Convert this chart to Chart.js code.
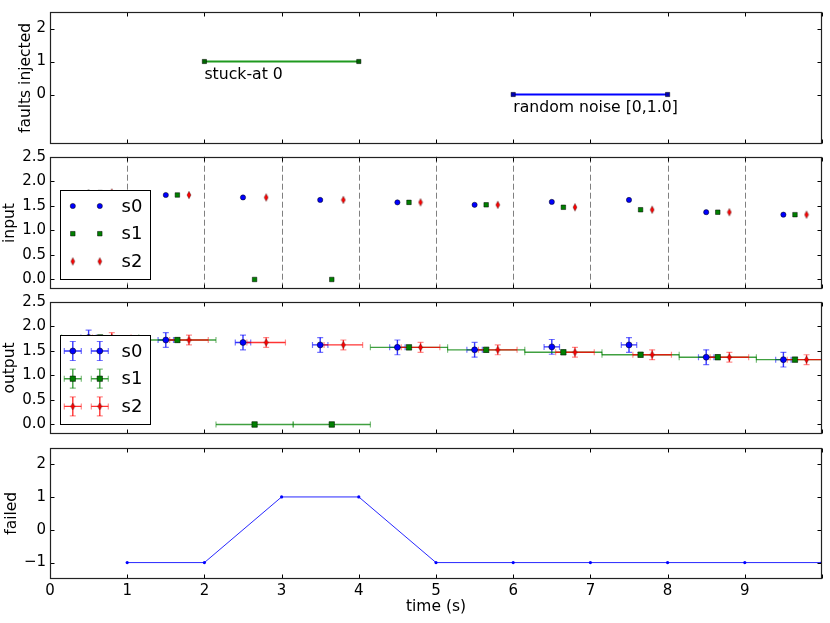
<!DOCTYPE html>
<html><head><meta charset="utf-8">
<script src="https://cdn.jsdelivr.net/npm/chart.js@4.4.0/dist/chart.umd.min.js"></script>
<style>
html,body{margin:0;padding:0;background:#fff;}
#wrap{position:relative;width:830px;height:623px;overflow:hidden;background:#fff;}
canvas{position:absolute;left:0;}
</style></head><body>
<div id="wrap">
<canvas id="c1" width="830" height="150" style="top:0px;width:830px;height:150px"></canvas>
<canvas id="c2" width="830" height="150" style="top:146px;width:830px;height:150px"></canvas>
<canvas id="c3" width="830" height="150" style="top:290px;width:830px;height:150px"></canvas>
<canvas id="c4" width="830" height="185" style="top:438px;width:830px;height:185px"></canvas>
</div>
<script>
// ---------------- data ----------------
const xTicks = [0,1,2,3,4,5,6,7,8,9,10];
const xTickLabels = ['0','1','2','3','4','5','6','7','8','9',''];
const seriesNames = ['s0','s1','s2'];

const s0Time = [0.5,1.5,2.5,3.5,4.5,5.5,6.5,7.5,8.5,9.5];
const s1Time = [0.65,1.65,2.65,3.65,4.65,5.65,6.65,7.65,8.65,9.65];
const s2Time = [0.8,1.8,2.8,3.8,4.8,5.8,6.8,7.8,8.8,9.8];

const s0Input = [1.77,1.72,1.67,1.62,1.57,1.52,1.58,1.62,1.37,1.32];
const s1Input = [1.77,1.72,0.0,0.0,1.57,1.52,1.47,1.42,1.37,1.32];
const s2Input = [1.77,1.72,1.67,1.62,1.57,1.52,1.47,1.42,1.37,1.32];

const s0Output = [1.77,1.72,1.67,1.62,1.57,1.52,1.58,1.62,1.37,1.32];
const s1Output = [1.77,1.72,0.0,0.0,1.57,1.52,1.47,1.42,1.37,1.32];
const s2Output = [1.77,1.72,1.67,1.62,1.57,1.52,1.47,1.42,1.37,1.32];

const outputXErr = [0.1, 0.5, 0.25];
const outputYErr = [0.15, 0.05, 0.1];

const stuckTime = [2,4];
const stuckLevel = [1,1];
const stuckLabel = 'stuck-at 0';
const noiseTime = [6,8];
const noiseLevel = [0,0];
const noiseLabel = 'random noise [0,1.0]';

const failedTime = [1,2,3,4,5,6,7,8,9,10];
const failedValue = [-1,-1,1,1,-1,-1,-1,-1,-1,-1];

const faultTicks = [0,1,2];
const ioTicks = [0,0.5,1.0,1.5,2.0,2.5];
const failedTicks = [-1,0,1,2];

// ---------------- helpers ----------------
const FONT = "'DejaVu Sans', sans-serif";
Chart.defaults.font.family = FONT;
const pts = (xs, ys) => xs.map((x, i) => ({x: x, y: ys[i]}));

function thinDiamond(w, h, fill) {
  const c = document.createElement('canvas');
  c.width = Math.ceil(w) + 2; c.height = Math.ceil(h) + 2;
  const g = c.getContext('2d');
  const cx = c.width / 2, cy = c.height / 2;
  g.beginPath();
  g.moveTo(cx, cy - h / 2); g.lineTo(cx + w / 2, cy); g.lineTo(cx, cy + h / 2); g.lineTo(cx - w / 2, cy);
  g.closePath();
  g.fillStyle = fill; g.fill();
  g.strokeStyle = 'rgba(0,0,0,0.7)'; g.lineWidth = 0.5; g.stroke();
  return c;
}

function drawMarker(ctx, ds, x, y) {
  const st = ds.pointStyle, r = ds.pointRadius;
  if (st && typeof st === 'object') { ctx.drawImage(st, x - st.width / 2, y - st.height / 2); return; }
  ctx.fillStyle = ds.pointBackgroundColor; ctx.strokeStyle = ds.pointBorderColor; ctx.lineWidth = ds.pointBorderWidth || 0;
  ctx.beginPath();
  if (st === 'rect') { const s = r * Math.SQRT1_2; ctx.rect(x - s, y - s, 2 * s, 2 * s); }
  else { ctx.arc(x, y, r, 0, Math.PI * 2); }
  ctx.fill(); if (ds.pointBorderWidth) ctx.stroke();
}

function drawCross(ctx, cx, cy, x0, x1, y0, y1, col, capCol) {
  ctx.setLineDash([]);
  ctx.lineWidth = 1.4; ctx.strokeStyle = col;
  ctx.beginPath();
  ctx.moveTo(x0, cy); ctx.lineTo(x1, cy);
  ctx.moveTo(cx, y0); ctx.lineTo(cx, y1);
  ctx.stroke();
  ctx.strokeStyle = capCol; ctx.lineWidth = 1.2;
  const c = 3;
  ctx.beginPath();
  ctx.moveTo(x0, cy - c); ctx.lineTo(x0, cy + c);
  ctx.moveTo(x1, cy - c); ctx.lineTo(x1, cy + c);
  ctx.moveTo(cx - c, y0); ctx.lineTo(cx + c, y0);
  ctx.moveTo(cx - c, y1); ctx.lineTo(cx + c, y1);
  ctx.stroke();
}

// ---------------- plugins ----------------
const dashGridPlugin = {
  id: 'dashGrid',
  beforeDatasetsDraw(chart, args, opts) {
    if (!opts || !opts.enabled) return;
    const {ctx, chartArea: a} = chart; const xs = chart.scales.x;
    ctx.save();
    ctx.setLineDash([6, 3]); ctx.strokeStyle = '#808080'; ctx.lineWidth = 1;
    xTicks.forEach(v => {
      const px = Math.round(xs.getPixelForValue(v)) + 0.5;
      if (px <= a.left + 1 || px >= a.right - 1) return;
      ctx.beginPath(); ctx.moveTo(px, a.top); ctx.lineTo(px, a.bottom); ctx.stroke();
    });
    ctx.restore();
  }
};

const errorBarPlugin = {
  id: 'errorBars',
  beforeDatasetsDraw(chart, args, opts) {
    if (!opts || !opts.enabled) return;
    const {ctx, chartArea: a} = chart;
    const xs = chart.scales.x, ys = chart.scales.y;
    ctx.save();
    ctx.beginPath(); ctx.rect(a.left, a.top, a.right - a.left, a.bottom - a.top); ctx.clip();
    chart.data.datasets.forEach(ds => {
      if (ds.xErr == null) return;
      ds.data.forEach(p => {
        drawCross(ctx,
          xs.getPixelForValue(p.x), ys.getPixelForValue(p.y),
          xs.getPixelForValue(p.x - ds.xErr), xs.getPixelForValue(p.x + ds.xErr),
          ys.getPixelForValue(p.y - ds.yErr), ys.getPixelForValue(p.y + ds.yErr),
          ds.errColor, ds.capColor);
      });
    });
    ctx.restore();
  }
};

const framePlugin = {
  id: 'frame',
  afterDatasetsDraw(chart) {
    const {ctx, chartArea: a} = chart;
    const xs = chart.scales.x, ys = chart.scales.y;
    ctx.save();
    ctx.setLineDash([]);
    ctx.strokeStyle = '#000'; ctx.lineWidth = 1;
    const L = Math.round(a.left) + 0.5, R = Math.round(a.right) - 0.5, T = Math.round(a.top) + 0.5, B = Math.round(a.bottom) - 0.5;
    ctx.beginPath();
    xTicks.forEach(v => {
      const px = Math.round(xs.getPixelForValue(v)) + 0.5;
      ctx.moveTo(px, B); ctx.lineTo(px, B - 4);
      ctx.moveTo(px, T); ctx.lineTo(px, T + 4);
    });
    ys.ticks.forEach(t => {
      const py = Math.round(ys.getPixelForValue(t.value)) + 0.5;
      ctx.moveTo(L, py); ctx.lineTo(L + 4, py);
      ctx.moveTo(R, py); ctx.lineTo(R - 4, py);
    });
    ctx.stroke();
    ctx.strokeStyle = '#222'; ctx.lineWidth = 1.2;
    ctx.strokeRect(L, T, R - L, B - T);
    ctx.restore();
  }
};

const annotatePlugin = {
  id: 'annotate',
  afterDatasetsDraw(chart, args, opts) {
    if (!opts || !opts.items) return;
    const {ctx} = chart; const xs = chart.scales.x, ys = chart.scales.y;
    ctx.save();
    ctx.fillStyle = '#000'; ctx.font = '15.7px ' + FONT; ctx.textAlign = 'left'; ctx.textBaseline = 'alphabetic';
    opts.items.forEach(it => {
      ctx.fillText(it.text, xs.getPixelForValue(it.x), ys.getPixelForValue(it.y) + 17.5);
    });
    ctx.restore();
  }
};

const boxLegendPlugin = {
  id: 'boxLegend',
  afterDraw(chart, args, opts) {
    if (!opts || !opts.enabled) return;
    const {ctx, chartArea: a} = chart;
    const w = 90, h = 89;
    const bx = Math.round(a.left + 10) + 0.5, by = Math.round(a.bottom - 10 - h) + 0.5;
    ctx.save();
    ctx.fillStyle = '#fff'; ctx.fillRect(bx, by, w, h);
    ctx.strokeStyle = '#000'; ctx.lineWidth = 1; ctx.setLineDash([]); ctx.strokeRect(bx, by, w, h);
    chart.data.datasets.forEach((ds, i) => {
      const ry = by + 15.5 + i * 27.7;
      [bx + 12.3, bx + 39.3].forEach(mx => {
        if (opts.errorBars) drawCross(ctx, mx, ry, mx - 8.5, mx + 8.5, ry - 9.5, ry + 9.5, ds.errColor, ds.capColor);
        drawMarker(ctx, ds, mx, ry);
      });
      ctx.fillStyle = '#000'; ctx.font = '18px ' + FONT; ctx.textBaseline = 'middle'; ctx.textAlign = 'left';
      ctx.fillText(ds.label, bx + 61, ry + 1);
    });
    ctx.restore();
  }
};

Chart.register(dashGridPlugin, errorBarPlugin, framePlugin, annotatePlugin, boxLegendPlugin);

// ---------------- options builder ----------------
function makeOptions(cfg) {
  return {
    responsive: false,
    animation: false,
    events: [],
    layout: {padding: {left: cfg.padLeft, right: 8, top: cfg.padTop, bottom: cfg.padBottom}},
    plugins: Object.assign({legend: {display: false}, tooltip: {enabled: false}}, cfg.plugins || {}),
    scales: {
      x: {
        type: 'linear', min: 0, max: 10, display: !!cfg.showX,
        afterBuildTicks: s => { s.ticks = xTicks.map(v => ({value: v})); },
        ticks: {callback: (v, i) => xTickLabels[i], font: {family: FONT, size: 15}, color: '#000', padding: 3, maxRotation: 0, autoSkip: false},
        grid: {display: false, drawTicks: false},
        border: {display: false},
        title: {display: !!cfg.showX, text: 'time (s)', font: {family: FONT, size: 15.5}, color: '#000', padding: {top: 0, bottom: 7}},
        afterFit: s => { s.height = cfg.xHeight || 0; s.paddingLeft = 0; s.paddingRight = 0; }
      },
      y: {
        type: 'linear', min: cfg.ymin, max: cfg.ymax,
        afterBuildTicks: s => { s.ticks = cfg.yTicks.map(v => ({value: v})); },
        ticks: {callback: cfg.yFmt, font: {family: FONT, size: 15}, color: '#000', padding: 4, autoSkip: false},
        grid: {display: false, drawTicks: false},
        border: {display: false},
        title: {display: true, text: cfg.yTitle, font: {family: FONT, size: 15.5}, color: '#000', padding: {top: 0, bottom: 0}},
        afterFit: s => { s.width = 50 - cfg.padLeft; s.paddingTop = 0; s.paddingBottom = 0; }
      }
    }
  };
}

const blue = '#0000ff', green = '#008000', red = '#ff0000';

// ---------------- panel 1: faults injected ----------------
new Chart(document.getElementById('c1'), {
  type: 'scatter',
  data: {datasets: [
    {label: stuckLabel, data: pts(stuckTime, stuckLevel), showLine: true, borderColor: '#1f9a1f', borderWidth: 2,
     pointStyle: 'rect', pointRadius: 3, pointBackgroundColor: '#006400', pointBorderColor: '#000', pointBorderWidth: 0.5},
    {label: noiseLabel, data: pts(noiseTime, noiseLevel), showLine: true, borderColor: blue, borderWidth: 2,
     pointStyle: 'rect', pointRadius: 3, pointBackgroundColor: '#0000b0', pointBorderColor: '#000', pointBorderWidth: 0.5}
  ]},
  options: makeOptions({padLeft: 16.2, padTop: 12, padBottom: 6, ymin: -1.5, ymax: 2.5, yTicks: faultTicks,
    yFmt: v => String(v), yTitle: 'faults injected',
    plugins: {annotate: {items: [
      {x: stuckTime[0], y: stuckLevel[0], text: stuckLabel},
      {x: noiseTime[0], y: noiseLevel[0], text: noiseLabel}
    ]}}})
});

// ---------------- panel 2: input ----------------
const inDiamond = thinDiamond(4, 7.5, red);
new Chart(document.getElementById('c2'), {
  type: 'scatter',
  data: {datasets: [
    {label: seriesNames[0], data: pts(s0Time, s0Input), pointStyle: 'circle', pointRadius: 2.6,
     pointBackgroundColor: blue, pointBorderColor: '#000', pointBorderWidth: 0.5},
    {label: seriesNames[1], data: pts(s1Time, s1Input), pointStyle: 'rect', pointRadius: 3.2,
     pointBackgroundColor: green, pointBorderColor: '#000', pointBorderWidth: 0.5},
    {label: seriesNames[2], data: pts(s2Time, s2Input), pointStyle: inDiamond, pointRadius: 3.5,
     pointBackgroundColor: red, pointBorderColor: '#000', pointBorderWidth: 0.5}
  ]},
  options: makeOptions({padLeft: 0.2, padTop: 10.7, padBottom: 6.7, ymin: -0.2, ymax: 2.5, yTicks: ioTicks,
    yFmt: v => Number(v).toFixed(1), yTitle: 'input',
    plugins: {dashGrid: {enabled: true}, boxLegend: {enabled: true, errorBars: false}}})
});

// ---------------- panel 3: output ----------------
const outDiamond = thinDiamond(4.2, 6.8, red);
new Chart(document.getElementById('c3'), {
  type: 'scatter',
  data: {datasets: [
    {label: seriesNames[0], data: pts(s0Time, s0Output), pointStyle: 'circle', pointRadius: 3,
     pointBackgroundColor: blue, pointBorderColor: '#000', pointBorderWidth: 0.5,
     xErr: outputXErr[0], yErr: outputYErr[0], errColor: 'rgba(0,0,255,0.8)', capColor: 'rgba(0,0,255,0.55)'},
    {label: seriesNames[1], data: pts(s1Time, s1Output), pointStyle: 'rect', pointRadius: 3.8,
     pointBackgroundColor: green, pointBorderColor: '#000', pointBorderWidth: 0.5,
     xErr: outputXErr[1], yErr: outputYErr[1], errColor: 'rgba(0,128,0,0.75)', capColor: 'rgba(0,128,0,0.5)'},
    {label: seriesNames[2], data: pts(s2Time, s2Output), pointStyle: outDiamond, pointRadius: 3.5,
     pointBackgroundColor: red, pointBorderColor: '#000', pointBorderWidth: 0.5,
     xErr: outputXErr[2], yErr: outputYErr[2], errColor: 'rgba(255,0,0,0.8)', capColor: 'rgba(255,0,0,0.45)'}
  ]},
  options: makeOptions({padLeft: 0.7, padTop: 11.7, padBottom: 5.7, ymin: -0.2, ymax: 2.5, yTicks: ioTicks,
    yFmt: v => Number(v).toFixed(1), yTitle: 'output',
    plugins: {errorBars: {enabled: true}, boxLegend: {enabled: true, errorBars: true}}})
});

// ---------------- panel 4: failed ----------------
new Chart(document.getElementById('c4'), {
  type: 'scatter',
  data: {datasets: [
    {label: 'failed', data: pts(failedTime, failedValue), showLine: true, borderColor: 'rgba(0,0,255,0.85)', borderWidth: 1,
     pointStyle: 'circle', pointRadius: 1.6, pointBackgroundColor: blue, pointBorderColor: blue, pointBorderWidth: 0}
  ]},
  options: makeOptions({padLeft: 2.7, padTop: 9.7, padBottom: 0, showX: true, xHeight: 44,
    ymin: -1.5, ymax: 2.5, yTicks: failedTicks,
    yFmt: v => (v < 0 ? '\u2212' + Math.abs(v) : String(v)), yTitle: 'failed'})
});
</script>
</body></html>
